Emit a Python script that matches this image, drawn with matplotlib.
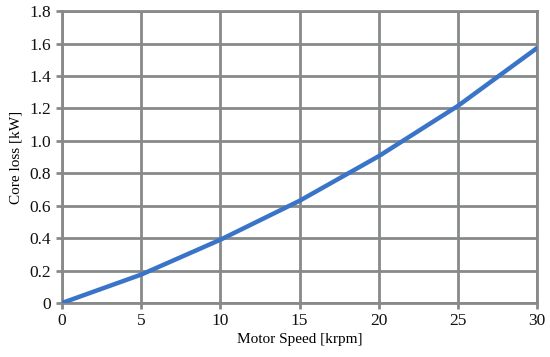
import matplotlib
matplotlib.use("Agg")
import matplotlib.pyplot as plt

# values
speed = [0, 5, 10, 15, 20, 25, 30]
core_loss = [0, 0.175, 0.39, 0.63, 0.905, 1.215, 1.572]

xticks = [0, 5, 10, 15, 20, 25, 30]
yticks = [0, 0.2, 0.4, 0.6, 0.8, 1.0, 1.2, 1.4, 1.6, 1.8]
ylabels = ["0", "0.2", "0.4", "0.6", "0.8", "1.0", "1.2", "1.4", "1.6", "1.8"]

grid_col = "#878a89"
line_col = "#3a74c8"

plt.rcParams["font.family"] = ["Liberation Serif", "DejaVu Serif"]

fig = plt.figure(figsize=(5.5, 3.57), dpi=100)
ax = fig.add_axes([0.1127, 0.1513, 0.8637, 0.8177])

ax.plot(speed, core_loss, color=line_col, lw=3.2, solid_capstyle="round", zorder=3)

ax.set_xlim(0, 30)
ax.set_ylim(0, 1.8)
ax.set_xticks(xticks)
ax.set_yticks(yticks)
ax.set_yticklabels(ylabels)
ax.grid(True, color=grid_col, lw=2)
ax.set_axisbelow(True)
for s in ax.spines.values():
    s.set_color(grid_col)
    s.set_linewidth(2)
ax.tick_params(axis="both", colors=grid_col, width=2, length=4, labelsize=12.5, labelcolor="#111111")
ax.tick_params(axis="y", pad=4)
ax.tick_params(axis="x", pad=3)

ax.set_xlabel("Motor Speed [krpm]", fontsize=11, labelpad=3)
ax.set_ylabel("Core loss [kW]", fontsize=11, labelpad=5)

fig.savefig("out.png", dpi=100)
